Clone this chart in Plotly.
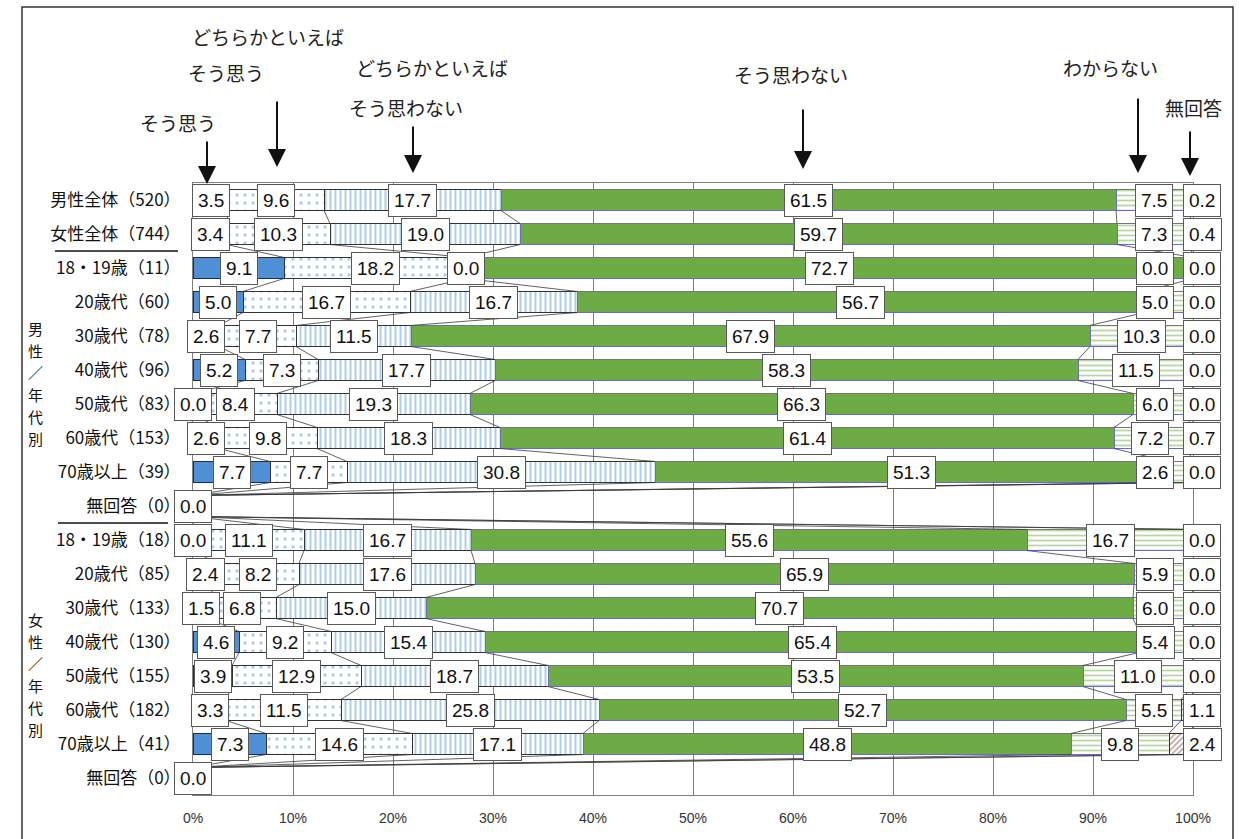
import plotly.graph_objects as go

# ---- data -------------------------------------------------------------
categories = [
    "男性全体（520）", "女性全体（744）",
    "18・19歳（11）", "20歳代（60）", "30歳代（78）", "40歳代（96）",
    "50歳代（83）", "60歳代（153）", "70歳以上（39）", "無回答（0）",
    "18・19歳（18）", "20歳代（85）", "30歳代（133）", "40歳代（130）",
    "50歳代（155）", "60歳代（182）", "70歳以上（41）", "無回答（0）",
]
sample_sizes = [520, 744, 11, 60, 78, 96, 83, 153, 39, 0,
                18, 85, 133, 130, 155, 182, 41, 0]

series_names = ["そう思う", "どちらかといえばそう思う", "どちらかといえばそう思わない",
                "そう思わない", "わからない", "無回答"]

agree = [3.5, 3.4, 9.1, 5.0, 2.6, 5.2, 0.0, 2.6, 7.7, 0.0,
         0.0, 2.4, 1.5, 4.6, 3.9, 3.3, 7.3, 0.0]
somewhat_agree = [9.6, 10.3, 18.2, 16.7, 7.7, 7.3, 8.4, 9.8, 7.7, 0.0,
                  11.1, 8.2, 6.8, 9.2, 12.9, 11.5, 14.6, 0.0]
somewhat_disagree = [17.7, 19.0, 0.0, 16.7, 11.5, 17.7, 19.3, 18.3, 30.8, 0.0,
                     16.7, 17.6, 15.0, 15.4, 18.7, 25.8, 17.1, 0.0]
disagree = [61.5, 59.7, 72.7, 56.7, 67.9, 58.3, 66.3, 61.4, 51.3, 0.0,
            55.6, 65.9, 70.7, 65.4, 53.5, 52.7, 48.8, 0.0]
dont_know = [7.5, 7.3, 0.0, 5.0, 10.3, 11.5, 6.0, 7.2, 2.6, 0.0,
             16.7, 5.9, 6.0, 5.4, 11.0, 5.5, 9.8, 0.0]
no_answer = [0.2, 0.4, 0.0, 0.0, 0.0, 0.0, 0.0, 0.7, 0.0, 0.0,
             0.0, 0.0, 0.0, 0.0, 0.0, 1.1, 2.4, 0.0]

x_ticks = [0, 10, 20, 30, 40, 50, 60, 70, 80, 90, 100]
x_tick_labels = [f"{t}%" for t in x_ticks]

# ---- layout geometry ---------------------------------------------------
W, H = 1239, 839
ML, MR, MT, MB = 193, 46, 183, 44
PW, PH = W - ML - MR, H - MT - MB
BAR_W = 0.62
JP = "Noto Sans CJK JP"
NUM = "Liberation Sans, Arial, sans-serif"
LABEL_SIZE = 19


def px_x(px):
    return (px - ML) / PW


def px_y(py):
    return (H - MB - py) / PH


series = [agree, somewhat_agree, somewhat_disagree, disagree, dont_know, no_answer]
ypos = list(range(len(categories)))

styles = [
    dict(color="#4f8fd6", line=dict(color="#1f2d4d", width=1)),
    dict(color="white", line=dict(color="#333333", width=1),
         pattern=dict(shape=".", fgcolor="#5b9bd5", bgcolor="white", size=8, solidity=0.15)),
    dict(color="white", line=dict(color="#333333", width=1),
         pattern=dict(shape="|", fgcolor="#5b9bd5", bgcolor="white", size=5, solidity=0.4)),
    dict(color="#6dab45", line=dict(color="#6f6fb0", width=1)),
    dict(color="white", line=dict(color="#6f6fb0", width=1),
         pattern=dict(shape="-", fgcolor="#70ad47", bgcolor="white", size=5, solidity=0.35)),
    dict(color="white", line=dict(color="#333333", width=1),
         pattern=dict(shape="/", fgcolor="#7f3f3f", bgcolor="white", size=4, solidity=0.4)),
]

fig = go.Figure()
for name, vals, st in zip(series_names, series, styles):
    fig.add_trace(go.Bar(x=vals, y=ypos, name=name, orientation="h",
                         width=BAR_W, marker=st, showlegend=False,
                         hoverinfo="x+name"))

# cumulative segment ends per row
cum = []
for i in ypos:
    acc, ends = 0.0, []
    for s in series:
        acc += s[i]
        ends.append(acc)
    cum.append(ends)

# series lines joining the segment ends of neighbouring rows
lx, ly = [], []
for i in ypos[:-1]:
    for k in range(len(series)):
        lx += [cum[i][k], cum[i + 1][k], None]
        ly += [i + BAR_W / 2, i + 1 - BAR_W / 2, None]
fig.add_trace(go.Scatter(x=lx, y=ly, mode="lines", showlegend=False,
                         hoverinfo="skip", line=dict(color="#3a3a3a", width=0.8)))

# ---- value labels ------------------------------------------------------
PX_PER = PW / 100.0


def box_w(txt):
    return sum(0.28 * LABEL_SIZE if c == "." else 0.556 * LABEL_SIZE for c in txt) + 12


annotations = []


def add_label(x, y, txt, xshift=0):
    annotations.append(dict(
        x=x, y=y, xref="x", yref="y", text=txt, showarrow=False, xshift=xshift,
        xanchor="center", yanchor="middle",
        font=dict(family=NUM, size=LABEL_SIZE, color="#111111"),
        bgcolor="white", bordercolor="#595959", borderwidth=1, borderpad=5))


for i in ypos:
    start = 0.0
    prev_right = -1e9
    if sample_sizes[i] == 0:
        add_label(0, i, f"{series[0][i]:.1f}")
        continue
    for k in range(4):
        v = series[k][i]
        txt = f"{v:.1f}"
        c = (start + v / 2) * PX_PER
        half = box_w(txt) / 2
        if c - half < prev_right + 2:
            c = prev_right + 2 + half
        prev_right = c + half
        add_label(c / PX_PER, i, txt)
        start += v
    # わからない: kept clear of the 無回答 label at the right edge
    v = series[4][i]
    c = min(start + v / 2, 96.2)
    add_label(c, i, f"{v:.1f}")
    # 無回答: placed just past the 100% line
    add_label(100, i, f"{series[5][i]:.1f}", xshift=9)

# ---- category headings with arrows -------------------------------------
heads = [
    ("どちらかといえば", 268, 37), ("そう思う", 226, 73), ("そう思う", 178, 123),
    ("どちらかといえば", 432, 67), ("そう思わない", 406, 107),
    ("そう思わない", 791, 75), ("わからない", 1110, 67), ("無回答", 1193, 107),
]
for txt, hx, hy in heads:
    annotations.append(dict(x=px_x(hx), y=px_y(hy), xref="paper", yref="paper",
                            xanchor="center", yanchor="middle",
                            text=txt, showarrow=False,
                            font=dict(family=JP, size=19, color="#222222")))

arrows = [(207, 140, 184), (277, 100, 167), (413, 125, 173),
          (803, 108, 169), (1138, 97, 173), (1190, 130, 176)]
for ax_, y0, y1 in arrows:
    annotations.append(dict(x=px_x(ax_), y=px_y(y1), xref="paper", yref="paper",
                            ax=0, ay=-(y1 - y0), axref="pixel", ayref="pixel",
                            text="", showarrow=True, arrowhead=2, arrowsize=1.8,
                            arrowwidth=2, arrowcolor="#111111"))

# vertical group captions on the left, one character per step
CAP_STEP = 22
for cap, cy in (("男性／年代別", 383), ("女性／年代別", 674)):
    top = cy - CAP_STEP * (len(cap) - 1) / 2
    for j, ch in enumerate(cap):
        annotations.append(dict(x=px_x(35), y=px_y(top + j * CAP_STEP),
                                xref="paper", yref="paper",
                                xanchor="center", yanchor="middle",
                                text=ch, showarrow=False,
                                font=dict(family=JP, size=15, color="#111111")))

shapes = [
    # outer frame
    dict(type="rect", xref="paper", yref="paper",
         x0=px_x(22), x1=px_x(1233), y0=px_y(846), y1=px_y(7),
         line=dict(color="#333333", width=1.5), layer="below"),
    # group separators in the label column
    dict(type="line", xref="paper", yref="y", x0=px_x(55), x1=px_x(178),
         y0=1.5, y1=1.5, line=dict(color="#111111", width=1.5)),
    dict(type="line", xref="paper", yref="y", x0=px_x(58), x1=px_x(168),
         y0=9.5, y1=9.5, line=dict(color="#111111", width=1.5)),
]

fig.update_layout(
    width=W, height=H, autosize=False,
    margin=dict(l=ML, r=MR, t=MT, b=MB, pad=0),
    barmode="stack", bargap=0.38,
    plot_bgcolor="white", paper_bgcolor="white",
    annotations=annotations, shapes=shapes,
    xaxis=dict(range=[0, 100], tickvals=x_ticks, ticktext=x_tick_labels,
               showgrid=True, gridcolor="#808080", gridwidth=1, zeroline=False,
               showline=True, mirror=True, linecolor="#808080", linewidth=1,
               ticks="", ticklabelstandoff=10,
               tickfont=dict(family="Liberation Sans Narrow, Liberation Sans, Arial", size=14, color="#333333"),
               fixedrange=True),
    yaxis=dict(range=[len(categories) - 0.5, -0.5], tickvals=ypos, ticktext=categories,
               showgrid=False, zeroline=False, showline=True, mirror=True,
               linecolor="#808080", linewidth=1, ticks="", ticklabelstandoff=8,
               tickfont=dict(family=JP, size=17, color="#111111"), fixedrange=True),
)

fig.write_html("out.html")
